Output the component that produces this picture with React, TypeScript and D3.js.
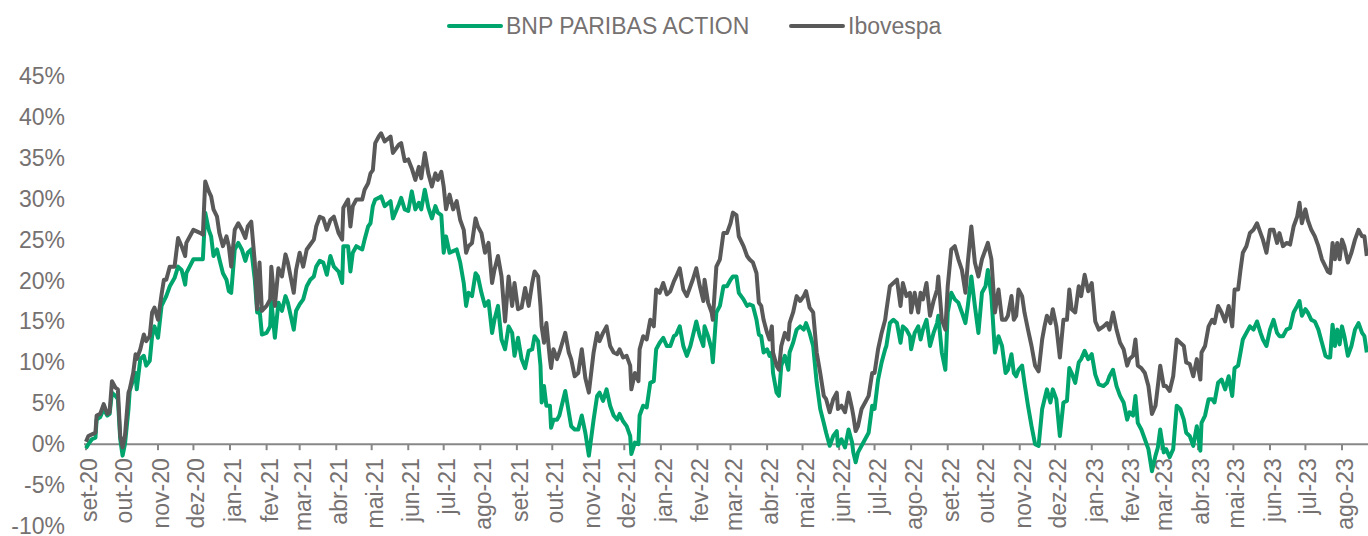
import React from "react";
import * as d3 from "d3";

// ---- data ----
const startDate = new Date(2020, 8, 1); // 1 Sep 2020
// observation dates, as days since startDate
const dayOffsets = [
  0, 2, 5, 8, 9, 12, 15, 18, 20, 22, 25, 27, 29, 31, 33, 36, 37, 40, 42, 43, 46, 49, 51, 54, 56, 58, 61, 64, 66, 68,
  71, 75, 78, 81, 84, 85, 91, 97, 99, 101, 104, 106, 108, 111, 113, 116, 119, 121, 123, 126, 129, 132, 135, 137, 140,
  143, 145, 147, 149, 153, 156, 157, 160, 163, 166, 169, 171, 176, 178, 181, 184, 187, 190, 193, 195, 198, 201, 204,
  207, 210,
  214, 217, 218, 222, 224, 226, 229, 234, 236, 239, 241, 243, 245, 248, 250, 253, 258, 260, 265, 267, 270, 273, 276,
  279, 282, 284, 287, 290, 293, 296, 298, 301, 303, 305, 308, 311, 314, 317, 320, 322, 324, 327, 330, 332, 335, 338,
  341, 344, 346, 349, 352, 355, 358, 361, 363, 366, 369, 372, 375, 378, 380, 383, 385, 386, 388, 390, 393, 394, 396,
  399, 401, 406, 409, 411, 414, 417, 420, 423, 426,
  430, 433, 435, 438, 441, 444, 447, 450, 452, 455, 458, 461, 462, 465, 468, 469, 472, 475, 478, 481, 483, 486, 489,
  492, 495, 498, 500, 503, 506, 509, 512, 514, 517, 520, 523, 524, 527, 530, 531, 534, 537, 540, 543, 546, 548, 551,
  553, 557, 560, 562, 565, 568, 570, 572, 574, 577, 579, 581, 582, 585, 587, 589, 592, 595, 596, 599, 602, 605, 608,
  610, 613, 616, 619, 622, 625, 627, 630, 633, 636, 637, 640, 643,
  646, 649, 650, 652, 654, 657, 660, 663, 666, 668, 671, 674, 677, 678, 681, 684, 687, 690, 692, 695, 698, 699, 702,
  705, 707, 709, 712, 715, 718, 721, 722, 725, 728, 730, 733, 736, 739, 742, 745, 747, 750, 753, 756, 759, 762, 764,
  767, 770, 773, 776, 779, 781, 784, 786, 788, 790, 793, 795, 798, 801, 804, 807, 810, 812, 814, 817, 819, 822, 825,
  828, 831, 833, 835, 838, 841, 843, 846, 849, 852, 855, 858,
  862, 865, 867, 870, 873, 876, 879, 882, 884, 887, 889, 891, 894, 897, 900, 903, 906, 908, 910, 913, 915, 918, 921,
  924, 927, 930, 932, 935, 938, 941, 944, 945, 948, 951, 954, 956, 959, 962, 965, 968, 971, 973, 976, 978, 980, 983,
  986, 989, 992, 995, 997, 1000, 1003, 1006, 1009, 1011, 1014, 1017, 1020, 1023, 1026, 1028, 1030, 1033, 1035, 1038,
  1041, 1044, 1047, 1050, 1052, 1054, 1056, 1058, 1060, 1062, 1064, 1066, 1069, 1072, 1075, 1078, 1081, 1083, 1085,
];

const ibovespa = [
  0.3, 1.0, 1.2, 1.4, 3.5, 3.7, 4.9, 3.7, 3.9, 7.7, 6.9, 6.7, 1.0, -0.4, 1.0, 6.3, 6.7, 8.7, 11.0, 10.4, 11.6, 13.4,
  12.6, 13.2, 16.1, 16.7, 15.2, 18.3, 20.1, 20.1, 21.7, 21.7, 25.2, 24.2, 23.0, 24.6, 26.2, 25.8, 25.6, 32.1, 30.9,
  30.3, 28.7, 27.8, 25.8, 24.2, 25.4, 24.2, 21.7, 26.2, 27.0, 26.2, 25.2, 26.6, 27.2, 22.2, 16.5, 22.2, 16.3, 16.9,
  17.7, 21.7, 16.9, 21.5, 20.5, 23.2, 22.2, 18.5, 21.3, 23.4, 21.7, 23.8, 24.4, 25.0, 26.6, 27.8, 27.6, 26.2, 27.4,
  27.8,
  25.8, 25.0, 28.9, 29.9, 26.6, 29.1, 29.9, 29.9, 31.1, 31.9, 33.1, 33.5, 36.8, 37.6, 38.0, 37.0, 37.6, 35.6, 36.6,
  36.8, 34.6, 34.8, 33.7, 32.3, 33.9, 32.5, 35.6, 33.1, 31.5, 33.1, 32.3, 33.3, 31.5, 28.7, 30.5, 28.7, 29.7, 27.4,
  26.2, 23.4, 24.2, 24.6, 27.6, 26.6, 25.8, 23.4, 24.6, 19.7, 21.3, 23.0, 20.5, 15.0, 20.5, 16.9, 19.7, 16.5, 16.7,
  19.1, 16.9, 19.7, 21.1, 20.5, 16.9, 14.4, 12.4, 14.8, 10.4, 9.3, 11.6, 10.4, 11.2, 13.6, 11.2, 10.4, 8.3, 8.7,
  11.6, 8.1, 6.3,
  11.2, 13.6, 12.6, 13.6, 14.4, 12.0, 11.2, 11.0, 11.6, 10.6, 10.8, 9.6, 6.7, 8.7, 7.7, 11.6, 13.2, 12.8, 15.2, 14.4,
  18.9, 18.5, 19.7, 18.3, 18.7, 19.9, 20.5, 21.5, 18.9, 18.1, 19.3, 20.1, 21.5, 19.3, 17.5, 20.1, 17.3, 16.1, 15.2,
  21.7, 22.6, 25.8, 25.8, 27.0, 28.3, 28.0, 25.4, 24.2, 23.0, 22.6, 22.2, 20.9, 17.3, 16.9, 15.2, 13.6, 12.8, 14.4,
  11.2, 9.6, 9.1, 12.0, 13.6, 12.8, 14.8, 16.1, 18.1, 17.5, 18.1, 18.7, 16.7, 16.1, 11.2, 8.7, 5.9, 5.5, 3.9, 5.5,
  6.3, 4.3, 4.7, 3.9,
  6.3, 4.3, 3.5, 1.6, 2.2, 4.3, 5.1, 5.9, 8.7, 8.7, 11.6, 13.6, 15.2, 16.3, 19.3, 19.7, 20.1, 16.9, 19.7, 18.1, 18.5,
  16.1, 18.5, 16.1, 18.5, 17.7, 19.7, 15.7, 17.5, 18.9, 20.5, 15.2, 14.0, 19.3, 23.8, 24.2, 22.6, 21.3, 18.5, 22.2,
  26.6, 22.2, 20.5, 22.6, 23.8, 24.6, 22.6, 16.1, 18.9, 15.2, 15.2, 15.7, 18.1, 15.2, 15.7, 18.9, 18.1, 16.1, 14.0,
  12.0, 9.6, 8.9, 12.8, 14.4, 15.7, 14.8, 16.5, 14.4, 10.6, 15.2, 15.2, 18.9, 16.5, 16.1, 19.3, 18.1, 20.7, 18.7,
  19.7, 15.0, 14.0,
  14.4, 14.8, 14.0, 16.1, 14.0, 12.4, 11.6, 9.6, 10.4, 10.8, 12.8, 9.6, 9.3, 8.7, 7.1, 3.7, 4.7, 7.1, 9.6, 7.1, 7.1,
  6.5, 8.3, 12.8, 12.4, 12.0, 10.0, 9.8, 8.3, 10.4, 7.9, 11.2, 12.0, 14.4, 15.2, 14.8, 16.9, 16.1, 15.0, 16.9, 14.4,
  18.9, 18.9, 21.3, 23.4, 24.2, 25.8, 26.2, 27.0, 25.8, 25.0, 23.4, 26.2, 26.2, 24.6, 25.8, 24.2, 24.6, 24.4, 26.6,
  27.8, 29.5, 27.0, 28.7, 27.4, 26.2, 25.4, 24.2, 22.6, 21.7, 21.1, 20.9, 24.6, 22.6, 24.6, 22.6, 25.0, 24.2, 22.2,
  23.4, 25.0, 26.2, 25.4, 25.4, 23.0,
];

const bnpParibas = [
  -0.5, 0.0, 0.6, 0.8, 3.0, 3.3, 4.3, 3.5, 3.7, 6.3, 5.9, 5.5, 0.6, -1.4, 0.0, 4.3, 6.5, 7.9, 8.7, 6.7, 10.4, 10.8,
  9.6, 10.2, 13.2, 14.4, 13.0, 16.9, 17.5, 18.1, 19.3, 20.3, 21.7, 21.3, 19.5, 20.9, 22.6, 22.6, 22.6, 28.3, 26.2,
  25.4, 23.0, 23.8, 22.6, 20.9, 20.1, 18.7, 18.5, 23.8, 24.6, 23.8, 22.4, 23.4, 23.8, 20.1, 16.1, 16.5, 13.4, 13.6,
  14.4, 17.5, 13.0, 17.3, 16.3, 18.1, 17.3, 14.0, 16.3, 17.1, 17.7, 19.3, 20.1, 20.5, 21.7, 22.4, 22.2, 20.7, 23.0,
  21.7,
  21.1, 19.7, 24.2, 24.2, 21.1, 23.4, 24.2, 23.8, 25.0, 26.6, 27.0, 29.1, 29.9, 30.1, 30.3, 29.1, 29.7, 27.6, 29.3,
  30.1, 28.7, 28.5, 30.9, 28.7, 29.5, 28.7, 31.1, 28.9, 27.6, 29.1, 28.3, 28.0, 23.4, 25.4, 23.4, 23.6, 23.8, 22.2,
  19.7, 16.9, 18.5, 18.1, 20.9, 20.5, 18.5, 16.9, 17.5, 13.6, 15.2, 16.9, 12.8, 11.6, 14.4, 13.6, 10.8, 13.0, 10.4,
  9.3, 11.4, 11.6, 13.2, 12.6, 9.6, 5.1, 7.1, 4.7, 4.7, 2.0, 3.0, 3.0, 3.5, 6.5, 3.9, 2.2, 1.8, 1.8, 3.5, 1.4, -1.4,
  3.0, 5.9, 6.3, 5.3, 6.7, 4.7, 3.5, 3.0, 3.7, 2.8, 2.2, 1.0, -1.2, 0.2, 0.0, 3.5, 4.7, 4.5, 7.5, 7.7, 11.6, 12.4,
  13.0, 12.0, 12.0, 13.2, 13.4, 14.4, 12.0, 10.8, 12.0, 13.2, 15.0, 13.2, 12.0, 14.4, 13.2, 11.6, 10.0, 16.1, 16.9,
  19.3, 19.3, 20.1, 20.5, 20.5, 18.5, 17.7, 16.9, 17.1, 16.9, 15.2, 13.4, 13.2, 11.2, 11.6, 10.8, 11.2, 8.7, 6.3,
  5.9, 9.6, 10.8, 9.1, 11.2, 12.4, 14.0, 14.4, 14.0, 14.8, 13.6, 12.0, 7.5, 4.3, 2.6, 1.4, -0.2, 1.0, 1.6, -0.2, 0.6,
  -0.4,
  1.8, 0.2, -1.0, -2.2, -1.0, -0.2, 0.6, 1.4, 4.7, 4.3, 7.9, 10.0, 11.6, 12.0, 14.8, 15.2, 14.8, 12.4, 14.4, 14.0,
  13.2, 11.6, 13.6, 14.4, 12.8, 14.0, 15.2, 12.0, 13.6, 14.8, 15.7, 11.2, 9.1, 16.1, 18.5, 17.7, 17.3, 16.1, 14.8,
  16.9, 20.5, 16.9, 13.6, 18.5, 19.3, 21.3, 18.1, 11.2, 13.2, 12.0, 8.7, 9.1, 11.0, 8.7, 8.3, 9.1, 9.6, 7.5, 4.7,
  2.2, 0.0, -0.2, 4.3, 5.5, 6.7, 5.1, 6.7, 5.5, 1.0, 5.1, 5.3, 9.3, 8.7, 7.5, 10.0, 10.4, 11.4, 10.4, 11.0, 8.5, 7.3,
  7.1, 7.5, 8.3, 9.1, 7.1, 5.9, 5.1, 3.0, 3.9, 3.5, 5.9, 2.6, 1.8, 0.6, -0.6, -3.3, -1.4, -0.4, 1.8, -1.0, -0.6,
  -1.6, -0.6, 4.7, 4.3, 3.0, 1.4, 1.0, -0.2, 2.2, -0.8, 2.6, 3.5, 5.5, 5.5, 5.1, 7.5, 7.9, 6.7, 8.3, 5.9, 9.3, 9.6,
  11.2, 12.8, 13.6, 14.4, 14.0, 15.0, 13.6, 12.8, 12.0, 14.0, 15.2, 13.6, 13.2, 13.2, 14.0, 14.2, 16.1, 16.9, 17.5,
  15.7, 16.5, 16.1, 15.2, 15.0, 14.0, 12.4, 10.8, 10.6, 10.6, 14.6, 12.0, 14.0, 12.2, 14.4, 13.2, 10.8, 12.0, 14.0,
  14.8, 13.6, 13.2, 11.2,
];

const monthNames = ["jan", "fev", "mar", "abr", "mai", "jun", "jul", "ago", "set", "out", "nov", "dez"];
const yTicks = [-10, -5, 0, 5, 10, 15, 20, 25, 30, 35, 40, 45];
const seriesNames = ["BNP PARIBAS ACTION", "Ibovespa"];

// ---- styles ----
const W = 1368;
const H = 536;
const GREEN = "#00A56E";
const GREY = "#595959";
const TEXT = "#767171";
const AXIS = "#878787";
const FONT = "'Liberation Sans', Arial, sans-serif";

export default function App() {
  const x = d3
    .scaleTime()
    .domain([startDate, new Date(2023, 7, 1)])
    .range([86, 1342]);
  const y = d3.scaleLinear().domain([-10, 45]).range([526, 76]);

  const dates = dayOffsets.map((d) => d3.timeDay.offset(startDate, d));
  const line = d3
    .line<number>()
    .x((_, i) => x(dates[i]))
    .y((v) => y(v));

  const months = d3.timeMonth.range(startDate, new Date(2023, 7, 2));
  const fmt = (d: Date) => `${monthNames[d.getMonth()]}-${String(d.getFullYear()).slice(2)}`;
  const y0 = y(0);

  return (
    <svg
      width={W}
      height={H}
      style={{ position: "absolute", left: 0, top: 0, background: "#fff" }}
      fontFamily={FONT}
    >
      {/* legend */}
      <g>
        <line x1={449} x2={501} y1={26} y2={26} stroke={GREEN} strokeWidth={4} strokeLinecap="round" />
        <text x={506} y={26} fontSize={23} fill={TEXT} dominantBaseline="central">
          {seriesNames[0]}
        </text>
        <line x1={791} x2={843} y1={26} y2={26} stroke={GREY} strokeWidth={4} strokeLinecap="round" />
        <text x={848} y={26} fontSize={23} fill={TEXT} dominantBaseline="central">
          {seriesNames[1]}
        </text>
      </g>

      {/* y axis labels */}
      {yTicks.map((t) => (
        <text key={t} x={65} y={y(t)} textAnchor="end" dominantBaseline="central" fontSize={23} fill={TEXT}>
          {`${t}%`}
        </text>
      ))}

      {/* x axis */}
      <line x1={84} x2={W} y1={y0} y2={y0} stroke={AXIS} strokeWidth={2} />
      {months.map((m) => (
        <g key={m.getTime()}>
          <line x1={x(m)} x2={x(m)} y1={y0} y2={y0 + 6} stroke={AXIS} strokeWidth={2} />
          <text
            transform={`translate(${x(m) + 3},${y0 + 14}) rotate(-90)`}
            textAnchor="end"
            dominantBaseline="central"
            fontSize={23}
            fill={TEXT}
          >
            {fmt(m)}
          </text>
        </g>
      ))}

      {/* series */}
      <path d={line(bnpParibas) || ""} fill="none" stroke={GREEN} strokeWidth={4} strokeLinejoin="round" />
      <path d={line(ibovespa) || ""} fill="none" stroke={GREY} strokeWidth={4} strokeLinejoin="round" />
    </svg>
  );
}
